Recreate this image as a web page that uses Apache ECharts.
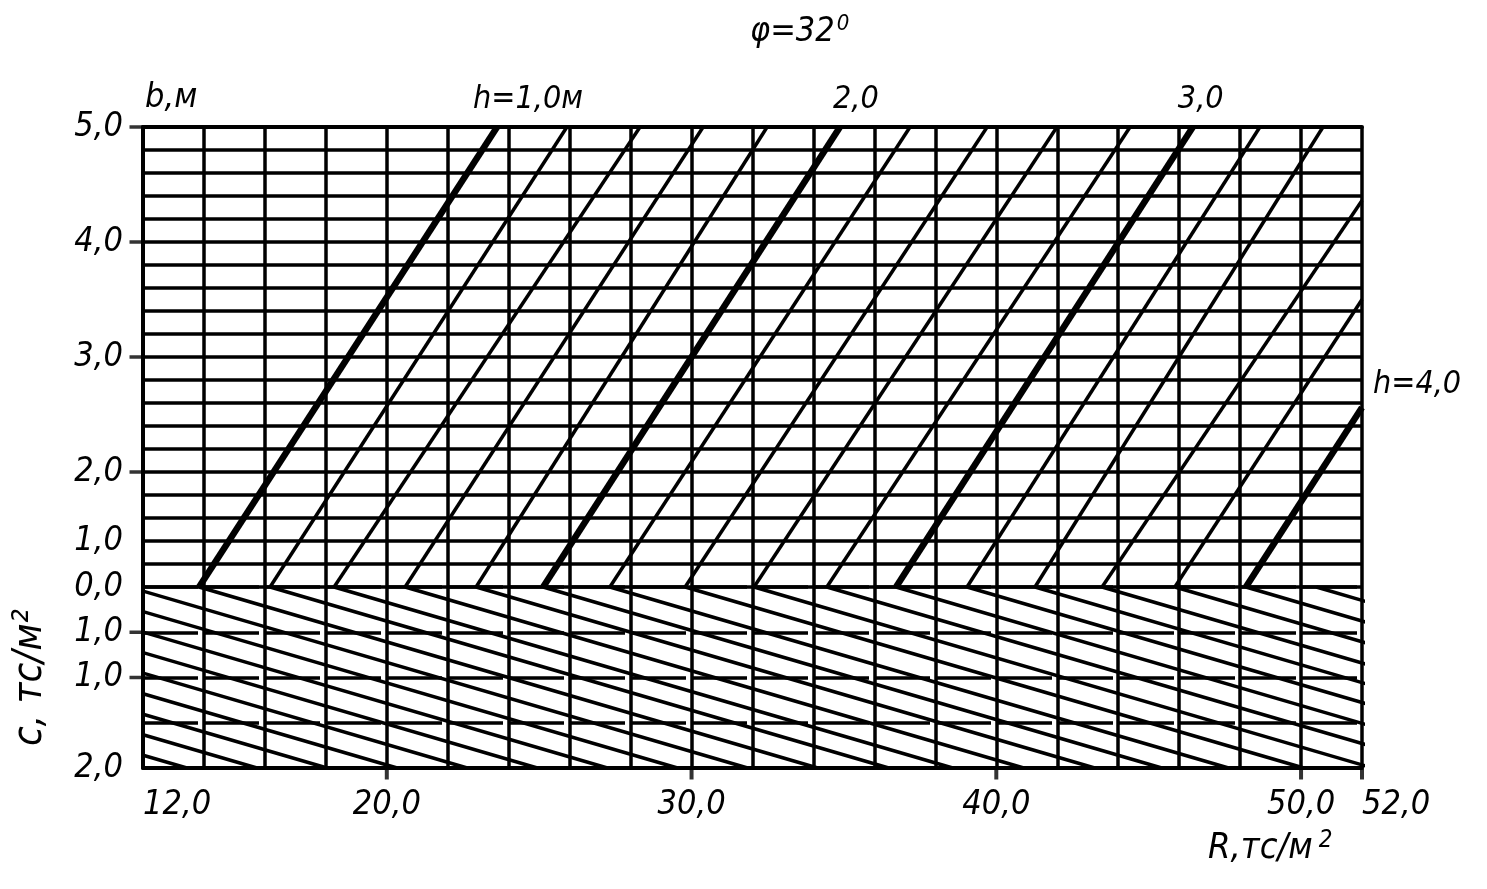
<!DOCTYPE html>
<html><head><meta charset="utf-8">
<script src="https://cdn.jsdelivr.net/npm/echarts@6/dist/echarts.min.js"></script>
<style>html,body{margin:0;padding:0;background:#fff}#c{width:1487px;height:889px}</style>
</head><body><div id="c"></div>
<script>
// ---- data ----
const hValues = [1.0,1.2,1.4,1.6,1.8,2.0,2.2,2.4,2.6,2.8,3.0,3.2,3.4,3.6,3.8,4.0];
// R (tc/m2) where each h-line meets b = 0 (row 0 of the upper field)
const upperFootR = [13.84,16.17,18.27,20.60,22.93,25.13,27.32,29.79,32.05,34.44,36.71,39.04,41.27,43.47,45.86,48.19];
// R and row where each h-line leaves the upper field (top edge = row 20, or right edge R = 52)
const upperEndR  = [23.62,25.91,28.31,30.38,32.48,34.87,37.17,39.70,41.99,44.39,46.45,48.65,50.72,52,52,52];
const upperEndRow= [20,20,20,20,20,20,20,20,20,20,20,20,20,16.8,12.5,7.8];
// h labels on the heavy lines
const hLabelText = {'1':'h=1,0м','2':'2,0','3':'3,0','4':'h=4,0'};
// lower field (cohesion c): lines start at c-row 0 and run down to c-row 4
const lowerStartR = [-6.86,-4.56,-2.26,0.04,2.34,4.64,6.94,9.24,11.54,13.84,16.17,18.27,20.60,22.93,25.13,27.32,29.79,32.05,34.44,36.71,39.04,41.27,43.47,45.86,48.19,50.5];
const lowerEndR   = [13.44,15.74,18.04,20.34,22.64,24.94,27.24,29.54,31.84,34.14,36.47,38.57,40.90,43.23,45.43,47.62,50.09,52.35,54.74,57.01,59.34,61.57,63.77,66.16,68.49,70.8];
// axis ticks
const xTickValues = [12,20,30,40,50,52];
const xTickLabels = ['12,0','20,0','30,0','40,0','50,0','52,0'];
const xMarkTicks = [20,30,40,50,52];
const bRowValues = [20,15,10,5,2,0];
const bRowLabels = ['5,0','4,0','3,0','2,0','1,0','0,0'];
const bTickRows = [20,15,10,5];
const cRowValues = [1,2,4];
const cRowLabels = ['1,0','1,0','2,0'];
const cTickRows = [1,2];

const FONT = '"DejaVu Sans Condensed", "Liberation Sans", sans-serif';
const INK = '#000';
const txt = (size) => ({fontFamily: FONT, fontStyle: 'italic', fontWeight: 'normal', fontSize: size, color: INK});

const endLabelCfg = {
  '1': {offset: [-32, -27], align: 'left'},
  '2': {offset: [-15, -27], align: 'left'},
  '3': {offset: [-23, -27], align: 'left'},
  '4': {offset: [3, -23], align: 'left'}
};

const series = [];
hValues.forEach((h, i) => {
  const heavy = Math.abs(h - Math.round(h)) < 1e-6;
  const key = String(Math.round(h));
  const s = {type: 'line', xAxisIndex: 0, yAxisIndex: 0, symbol: 'none', silent: true, clip: true,
    lineStyle: {color: INK, width: heavy ? 6.5 : 3.5}, data: [[upperFootR[i], 0], [upperEndR[i], upperEndRow[i]]], z: 5};
  if (heavy && hLabelText[key]) {
    s.endLabel = {show: true, formatter: hLabelText[key], ...endLabelCfg[key], ...txt(32)};
  }
  series.push(s);
});
lowerStartR.forEach((r0, i) => {
  series.push({type: 'line', xAxisIndex: 1, yAxisIndex: 1, symbol: 'none', silent: true, clip: true,
    lineStyle: {color: INK, width: 3.5}, data: [[r0, 0], [lowerEndR[i], 4]], z: 5});
});
// axis tick stubs (outside the field), placed by value on the axes
series.push({type: 'scatter', xAxisIndex: 0, yAxisIndex: 0, silent: true, clip: false, z: 6,
  symbol: 'rect', symbolSize: [13, 3.5], symbolOffset: [-7, 0], itemStyle: {color: INK},
  data: bTickRows.map(r => [12, r])});
series.push({type: 'scatter', xAxisIndex: 1, yAxisIndex: 1, silent: true, clip: false, z: 6,
  symbol: 'rect', symbolSize: [13, 3.5], symbolOffset: [-7, 0], itemStyle: {color: INK},
  data: cTickRows.map(r => [12, r])});
series.push({type: 'scatter', xAxisIndex: 1, yAxisIndex: 1, silent: true, clip: false, z: 6,
  symbol: 'rect', symbolSize: [4, 11], symbolOffset: [0, 6], itemStyle: {color: INK},
  data: xMarkTicks.map(v => [v, 4])});

const xLab = (v) => { const k = xTickValues.indexOf(v); return k >= 0 ? xTickLabels[k] : ''; };
const bLab = (v) => { const k = bRowValues.indexOf(v); return k >= 0 ? bRowLabels[k] : ''; };
const cLab = (v) => { const k = cRowValues.indexOf(v); return k >= 0 ? cRowLabels[k] : ''; };
const solidAxis = {show: true, onZero: false, lineStyle: {color: INK, width: 4}};

const option = {
  backgroundColor: '#fff',
  animation: false,
  title: [
    {text: '{a|φ=32}{s|0}', left: 745, top: 8, textStyle: {rich: {a: txt(34), s: {...txt(22), verticalAlign: 'top', padding: [0,0,16,2]}}}},
    {text: '{a|R,тс/м}{s|2}', left: 1203, top: 824, textStyle: {rich: {a: txt(36), s: {...txt(24), padding: [0,0,16,6]}}}}
  ],
  grid: [
    {left: 143, right: 125, top: 127, height: 460},
    {left: 143, right: 125, top: 587, height: 181}
  ],
  xAxis: [
    {gridIndex: 0, type: 'value', min: 12, max: 52, interval: 2, position: 'top',
      axisLine: solidAxis, axisTick: {show: false}, axisLabel: {show: false},
      splitLine: {show: true, lineStyle: {color: INK, width: 3.5}}},
    {gridIndex: 1, type: 'value', min: 12, max: 52, interval: 2, position: 'bottom',
      axisLine: solidAxis,
      axisTick: {show: false},
      axisLabel: {show: true, formatter: xLab, margin: 20, alignMinLabel: 'left', alignMaxLabel: 'left', ...txt(34)},
      splitLine: {show: true, lineStyle: {color: INK, width: 3.5}}}
  ],
  yAxis: [
    {gridIndex: 0, type: 'value', min: 0, max: 20, interval: 1, position: 'left',
      name: 'b,м', nameLocation: 'end', nameGap: 12, nameTextStyle: {...txt(34), align: 'left', padding: [0,0,0,2]},
      axisLine: solidAxis,
      axisTick: {show: false},
      axisLabel: {show: true, formatter: bLab, margin: 20, ...txt(34)},
      splitLine: {show: true, lineStyle: {color: INK, width: 3.5}}},
    {gridIndex: 1, type: 'value', min: 0, max: 4, interval: 1, inverse: true, position: 'left',
      name: 'с, тс/м²', nameLocation: 'middle', nameRotate: 90, nameGap: 92, nameTextStyle: {...txt(40)},
      axisLine: solidAxis,
      axisTick: {show: false},
      axisLabel: {show: true, formatter: cLab, margin: 20, ...txt(34)},
      splitLine: {show: true, lineStyle: {color: INK, width: 3.5, type: [55, 6]}}}
  ],
  series: series
};
const chart = echarts.init(document.getElementById('c'), null, {renderer: 'canvas'});
chart.setOption(option);
</script></body></html>
